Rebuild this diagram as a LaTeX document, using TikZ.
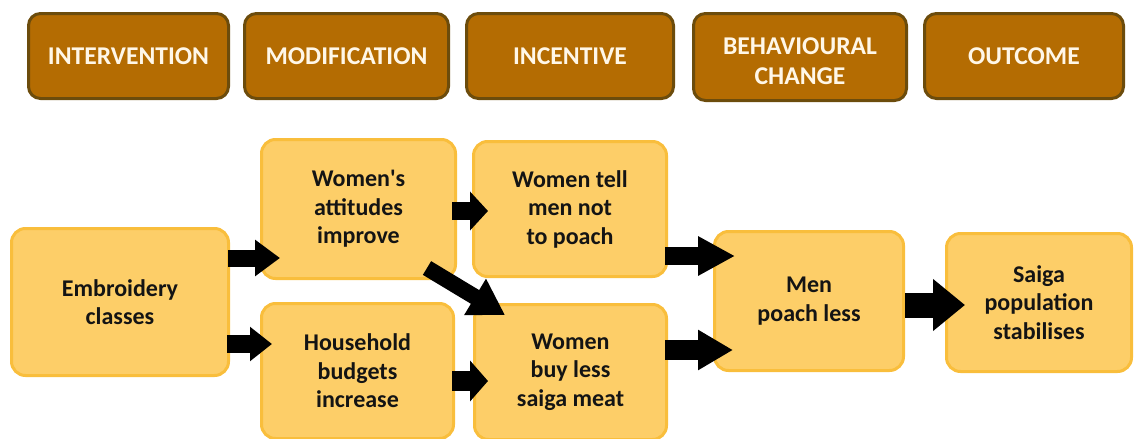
\documentclass[tikz,border=0pt]{standalone}
\usepackage{fontspec}
\setmainfont{Carlito}
\usetikzlibrary{arrows.meta,calc}
\definecolor{hdrfill}{RGB}{180,108,2}
\definecolor{hdrline}{RGB}{108,76,12}
\definecolor{hdrtext}{RGB}{255,247,232}
\definecolor{boxfill}{RGB}{253,206,104}
\definecolor{boxline}{RGB}{249,190,60}
\definecolor{txt}{RGB}{20,20,20}
\tikzset{
  hdr/.style={draw=hdrline, fill=hdrfill, line width=3pt, rounded corners=12pt,
    text=hdrtext, font=\fontsize{25.6}{30}\selectfont\bfseries, align=center, inner sep=0pt},
  cbox/.style={draw=boxline, fill=boxfill, line width=3pt, rounded corners=14pt,
    text=txt, font=\fontsize{24}{28.5}\selectfont\bfseries, align=center, inner sep=0pt},
  barrow/.style n args={3}{draw=black, line width=#1, -{Triangle[length=#2, width=#3]}}
}
\begin{document}
\begin{tikzpicture}[x=1pt,y=-1pt]
\useasboundingbox (0,0) rectangle (1135,439);
% headers
\node[hdr, minimum width=200, minimum height=85] (h1) at (128.5,56) {INTERVENTION};
\node[hdr, minimum width=204, minimum height=85] (h2) at (346.5,56) {MODIFICATION};
\node[hdr, minimum width=207, minimum height=85] (h3) at (570,56) {INCENTIVE};
\node[hdr, minimum width=213, minimum height=87] (h4) at (800,57) {};
\node[text=hdrtext, font=\fontsize{25.6}{30}\selectfont\bfseries, align=center, inner sep=0pt] (h4t) at ($(h4.center)+(0,4)$) {BEHAVIOURAL\\CHANGE};
\node[hdr, minimum width=199, minimum height=85] (h5) at (1024,56) {OUTCOME};
% boxes
\node[cbox, minimum width=217, minimum height=147] (emb) at (120,302) {Embroidery\\classes};
\node[cbox, minimum width=194, minimum height=139] (att) at (358.5,209) {Women\textquotesingle s\\attitudes\\improve};
\node[cbox, minimum width=192, minimum height=135] (hh) at (357.5,371) {Household\\budgets\\increase};
\node[cbox, minimum width=193, minimum height=135] (tell) at (570,209) {Women tell\\men not\\to poach};
\node[cbox, minimum width=192, minimum height=135] (buy) at (570.5,372) {Women\\buy less\\saiga meat};
\node[cbox, minimum width=189, minimum height=139] (men) at (809,301) {Men\\poach less};
\node[cbox, minimum width=185, minimum height=138] (saiga) at (1039,302.5) {Saiga\\population\\stabilises};
% arrows
\draw[barrow={17pt}{25pt}{35pt}] ($(emb.east)+(-2,-44)$) -- ($(att.west)+(20,49)$);
\draw[barrow={18pt}{22pt}{33pt}] ($(emb.east)+(-3,42)$) -- ($(hh.west)+(12,-27)$);
\draw[barrow={18pt}{18pt}{38pt}] ($(att.east)+(-5,2)$) -- ($(tell.west)+(16,2)$);
\draw[barrow={20pt}{18pt}{40pt}] ($(hh.east)+(-3,10)$) -- ($(buy.west)+(15,9)$);
\draw[barrow={16pt}{35pt}{40pt}] ($(att.south east)+(-30,-12)$) -- ($(buy.north west)+(32,12)$);
\draw[barrow={18pt}{37pt}{37pt}] ($(tell.east)+(-3,47)$) -- ($(men.west)+(22,-45)$);
\draw[barrow={20pt}{35pt}{38pt}] ($(buy.east)+(-3,-22)$) -- ($(men.west)+(20,49)$);
\draw[barrow={25pt}{32pt}{50pt}] ($(men.east)+(0,4)$) -- ($(saiga.west)+(20,2.5)$);
\end{tikzpicture}
\end{document}
